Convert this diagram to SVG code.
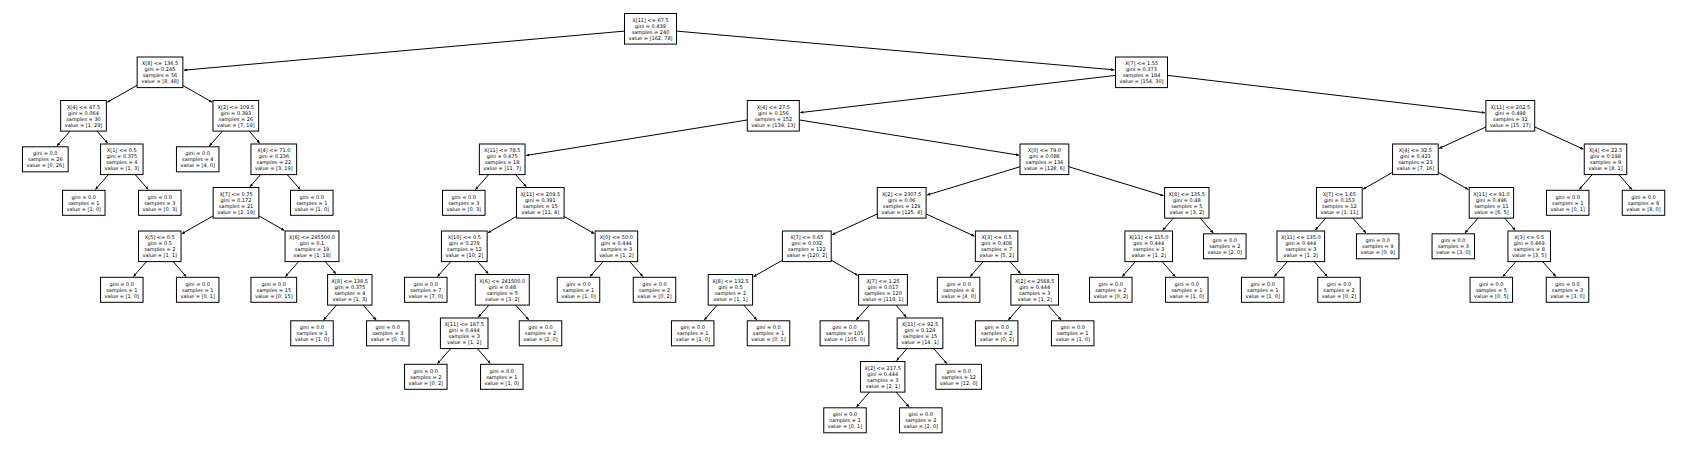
<svg xmlns="http://www.w3.org/2000/svg" width="1688" height="449" viewBox="0 0 1688 449">
<defs>
<style>
.box{fill:#fff;stroke:#000;stroke-width:1}
.t{font-family:"DejaVu Sans","Liberation Sans",sans-serif;font-size:5px;text-anchor:middle;dominant-baseline:central;fill:#000}
.e{stroke:#000;stroke-width:1;fill:none;marker-end:url(#ah)}
</style>
<marker id="ah" markerUnits="userSpaceOnUse" markerWidth="3.2" markerHeight="3" viewBox="0 0 3.2 3" refX="3.2" refY="1.5" orient="auto"><path d="M0,0 L3.2,1.5 L0,3 z" fill="#000"/></marker>
</defs>
<rect width="1688" height="449" fill="#fff"/>
<g id="connectors">
<line class="e" x1="650.5" y1="28.8" x2="183.85" y2="70.18"/>
<line class="e" x1="650.5" y1="28.8" x2="1114.5" y2="69.9"/>
<line class="e" x1="160" y1="72.3" x2="107.2" y2="102.3"/>
<line class="e" x1="160" y1="72.3" x2="212.1" y2="102.2"/>
<line class="e" x1="83.5" y1="115.8" x2="56.9" y2="146.05"/>
<line class="e" x1="83.5" y1="115.8" x2="107.7" y2="143.25"/>
<line class="e" x1="121.8" y1="159.3" x2="95.4" y2="189.5"/>
<line class="e" x1="121.8" y1="159.3" x2="148.2" y2="189.5"/>
<line class="e" x1="235.8" y1="115.8" x2="209.3" y2="146.05"/>
<line class="e" x1="235.8" y1="115.8" x2="259.8" y2="143.25"/>
<line class="e" x1="273.8" y1="159.3" x2="249.95" y2="186.75"/>
<line class="e" x1="273.8" y1="159.3" x2="300.2" y2="189.5"/>
<line class="e" x1="236" y1="202.8" x2="181.9" y2="233.7"/>
<line class="e" x1="236" y1="202.8" x2="284.4" y2="230.5"/>
<line class="e" x1="159.8" y1="246.3" x2="133.4" y2="276.55"/>
<line class="e" x1="159.8" y1="246.3" x2="186.15" y2="276.55"/>
<line class="e" x1="312" y1="246.3" x2="285.44" y2="276.55"/>
<line class="e" x1="312" y1="246.3" x2="335.85" y2="273.75"/>
<line class="e" x1="349.8" y1="289.8" x2="323.5" y2="320.05"/>
<line class="e" x1="349.8" y1="289.8" x2="376.2" y2="320.05"/>
<line class="e" x1="1141.5" y1="72.3" x2="800.3" y2="112.6"/>
<line class="e" x1="1141.5" y1="72.3" x2="1484.9" y2="112.8"/>
<line class="e" x1="773.3" y1="115.8" x2="526" y2="155.5"/>
<line class="e" x1="773.3" y1="115.8" x2="1019" y2="155.2"/>
<line class="e" x1="502.2" y1="159.3" x2="475.5" y2="189.55"/>
<line class="e" x1="502.2" y1="159.3" x2="526.24" y2="186.75"/>
<line class="e" x1="540.3" y1="202.8" x2="488" y2="232.7"/>
<line class="e" x1="540.3" y1="202.8" x2="594.3" y2="233.65"/>
<line class="e" x1="464.3" y1="246.3" x2="437.5" y2="276.55"/>
<line class="e" x1="464.3" y1="246.3" x2="488.3" y2="273.75"/>
<line class="e" x1="502.3" y1="289.8" x2="478.26" y2="317.25"/>
<line class="e" x1="502.3" y1="289.8" x2="528.86" y2="320.05"/>
<line class="e" x1="464.2" y1="333.3" x2="437.5" y2="363.55"/>
<line class="e" x1="464.2" y1="333.3" x2="490.34" y2="363.55"/>
<line class="e" x1="616.4" y1="246.3" x2="590.05" y2="276.55"/>
<line class="e" x1="616.4" y1="246.3" x2="642.9" y2="276.55"/>
<line class="e" x1="1044.4" y1="159.3" x2="927.06" y2="195.07"/>
<line class="e" x1="1044.4" y1="159.3" x2="1163.64" y2="195.73"/>
<line class="e" x1="901.7" y1="202.8" x2="832.1" y2="234.7"/>
<line class="e" x1="901.7" y1="202.8" x2="974.44" y2="236.14"/>
<line class="e" x1="806.8" y1="246.3" x2="753.47" y2="276.67"/>
<line class="e" x1="806.8" y1="246.3" x2="857.73" y2="275.37"/>
<line class="e" x1="730.4" y1="289.8" x2="704.18" y2="320.05"/>
<line class="e" x1="730.4" y1="289.8" x2="756.9" y2="320.05"/>
<line class="e" x1="883" y1="289.8" x2="856.2" y2="320.05"/>
<line class="e" x1="883" y1="289.8" x2="906.34" y2="317.24"/>
<line class="e" x1="920" y1="333.3" x2="896.47" y2="360.74"/>
<line class="e" x1="920" y1="333.3" x2="946.91" y2="363.55"/>
<line class="e" x1="882.7" y1="376.8" x2="856.48" y2="407.05"/>
<line class="e" x1="882.7" y1="376.8" x2="909.2" y2="407.05"/>
<line class="e" x1="996.6" y1="246.3" x2="970.18" y2="276.55"/>
<line class="e" x1="996.6" y1="246.3" x2="1020.64" y2="273.75"/>
<line class="e" x1="1034.7" y1="289.8" x2="1008.28" y2="320.05"/>
<line class="e" x1="1034.7" y1="289.8" x2="1061.12" y2="320.05"/>
<line class="e" x1="1186.8" y1="202.8" x2="1162.76" y2="230.25"/>
<line class="e" x1="1186.8" y1="202.8" x2="1213.22" y2="233.05"/>
<line class="e" x1="1148.7" y1="246.3" x2="1122.35" y2="276.55"/>
<line class="e" x1="1148.7" y1="246.3" x2="1175.2" y2="276.55"/>
<line class="e" x1="1510.3" y1="115.8" x2="1439.16" y2="148.41"/>
<line class="e" x1="1510.3" y1="115.8" x2="1583.34" y2="149.17"/>
<line class="e" x1="1415.4" y1="159.3" x2="1363.02" y2="189.24"/>
<line class="e" x1="1415.4" y1="159.3" x2="1468.33" y2="189.59"/>
<line class="e" x1="1339.3" y1="202.8" x2="1315" y2="230.25"/>
<line class="e" x1="1339.3" y1="202.8" x2="1366" y2="233.05"/>
<line class="e" x1="1300.8" y1="246.3" x2="1274.3" y2="276.55"/>
<line class="e" x1="1300.8" y1="246.3" x2="1327.36" y2="276.55"/>
<line class="e" x1="1491.4" y1="202.8" x2="1464.9" y2="233.05"/>
<line class="e" x1="1491.4" y1="202.8" x2="1515.25" y2="230.25"/>
<line class="e" x1="1529.2" y1="246.3" x2="1502.85" y2="276.55"/>
<line class="e" x1="1529.2" y1="246.3" x2="1555.83" y2="276.55"/>
<line class="e" x1="1605.5" y1="159.3" x2="1579.2" y2="189.55"/>
<line class="e" x1="1605.5" y1="159.3" x2="1631.9" y2="189.55"/>
</g>
<g id="n0" transform="translate(650.5,28.8)"><rect class="box" x="-26" y="-15.3" width="52" height="30.6"/><text class="t"><tspan x="0" y="-9">X[11] &lt;= 67.5</tspan><tspan x="0" y="-3">gini = 0.439</tspan><tspan x="0" y="3">samples = 240</tspan><tspan x="0" y="9">value = [162, 78]</tspan></text></g>
<g id="n1" transform="translate(160,72.3)"><rect class="box" x="-22.85" y="-15.3" width="45.7" height="30.6"/><text class="t"><tspan x="0" y="-9">X[8] &lt;= 136.5</tspan><tspan x="0" y="-3">gini = 0.245</tspan><tspan x="0" y="3">samples = 56</tspan><tspan x="0" y="9">value = [8, 48]</tspan></text></g>
<g id="n2" transform="translate(83.5,115.8)"><rect class="box" x="-22.85" y="-15.3" width="45.7" height="30.6"/><text class="t"><tspan x="0" y="-9">X[4] &lt;= 47.5</tspan><tspan x="0" y="-3">gini = 0.064</tspan><tspan x="0" y="3">samples = 30</tspan><tspan x="0" y="9">value = [1, 29]</tspan></text></g>
<g id="n3" transform="translate(45.3,159.3)"><rect class="box" x="-22.85" y="-12.5" width="45.7" height="25"/><text class="t"><tspan x="0" y="-6">gini = 0.0</tspan><tspan x="0" y="0">samples = 26</tspan><tspan x="0" y="6">value = [0, 26]</tspan></text></g>
<g id="n4" transform="translate(121.8,159.3)"><rect class="box" x="-21.25" y="-15.3" width="42.5" height="30.6"/><text class="t"><tspan x="0" y="-9">X[1] &lt;= 0.5</tspan><tspan x="0" y="-3">gini = 0.375</tspan><tspan x="0" y="3">samples = 4</tspan><tspan x="0" y="9">value = [1, 3]</tspan></text></g>
<g id="n5" transform="translate(83.8,202.8)"><rect class="box" x="-21.25" y="-12.5" width="42.5" height="25"/><text class="t"><tspan x="0" y="-6">gini = 0.0</tspan><tspan x="0" y="0">samples = 1</tspan><tspan x="0" y="6">value = [1, 0]</tspan></text></g>
<g id="n6" transform="translate(159.8,202.8)"><rect class="box" x="-21.25" y="-12.5" width="42.5" height="25"/><text class="t"><tspan x="0" y="-6">gini = 0.0</tspan><tspan x="0" y="0">samples = 3</tspan><tspan x="0" y="6">value = [0, 3]</tspan></text></g>
<g id="n7" transform="translate(235.8,115.8)"><rect class="box" x="-22.85" y="-15.3" width="45.7" height="30.6"/><text class="t"><tspan x="0" y="-9">X[2] &lt;= 109.5</tspan><tspan x="0" y="-3">gini = 0.393</tspan><tspan x="0" y="3">samples = 26</tspan><tspan x="0" y="9">value = [7, 19]</tspan></text></g>
<g id="n8" transform="translate(197.7,159.3)"><rect class="box" x="-21.25" y="-12.5" width="42.5" height="25"/><text class="t"><tspan x="0" y="-6">gini = 0.0</tspan><tspan x="0" y="0">samples = 4</tspan><tspan x="0" y="6">value = [4, 0]</tspan></text></g>
<g id="n9" transform="translate(273.8,159.3)"><rect class="box" x="-22.85" y="-15.3" width="45.7" height="30.6"/><text class="t"><tspan x="0" y="-9">X[4] &lt;= 71.0</tspan><tspan x="0" y="-3">gini = 0.236</tspan><tspan x="0" y="3">samples = 22</tspan><tspan x="0" y="9">value = [3, 19]</tspan></text></g>
<g id="n10" transform="translate(236,202.8)"><rect class="box" x="-22.85" y="-15.3" width="45.7" height="30.6"/><text class="t"><tspan x="0" y="-9">X[7] &lt;= 0.75</tspan><tspan x="0" y="-3">gini = 0.172</tspan><tspan x="0" y="3">samples = 21</tspan><tspan x="0" y="9">value = [2, 19]</tspan></text></g>
<g id="n11" transform="translate(159.8,246.3)"><rect class="box" x="-21.25" y="-15.3" width="42.5" height="30.6"/><text class="t"><tspan x="0" y="-9">X[5] &lt;= 0.5</tspan><tspan x="0" y="-3">gini = 0.5</tspan><tspan x="0" y="3">samples = 2</tspan><tspan x="0" y="9">value = [1, 1]</tspan></text></g>
<g id="n12" transform="translate(121.8,289.8)"><rect class="box" x="-21.25" y="-12.5" width="42.5" height="25"/><text class="t"><tspan x="0" y="-6">gini = 0.0</tspan><tspan x="0" y="0">samples = 1</tspan><tspan x="0" y="6">value = [1, 0]</tspan></text></g>
<g id="n13" transform="translate(197.7,289.8)"><rect class="box" x="-21.25" y="-12.5" width="42.5" height="25"/><text class="t"><tspan x="0" y="-6">gini = 0.0</tspan><tspan x="0" y="0">samples = 1</tspan><tspan x="0" y="6">value = [0, 1]</tspan></text></g>
<g id="n14" transform="translate(312,246.3)"><rect class="box" x="-26.95" y="-15.3" width="53.9" height="30.6"/><text class="t"><tspan x="0" y="-9">X[6] &lt;= 295500.0</tspan><tspan x="0" y="-3">gini = 0.1</tspan><tspan x="0" y="3">samples = 19</tspan><tspan x="0" y="9">value = [1, 18]</tspan></text></g>
<g id="n15" transform="translate(273.8,289.8)"><rect class="box" x="-22.85" y="-12.5" width="45.7" height="25"/><text class="t"><tspan x="0" y="-6">gini = 0.0</tspan><tspan x="0" y="0">samples = 15</tspan><tspan x="0" y="6">value = [0, 15]</tspan></text></g>
<g id="n16" transform="translate(349.8,289.8)"><rect class="box" x="-22.2" y="-15.3" width="44.4" height="30.6"/><text class="t"><tspan x="0" y="-9">X[8] &lt;= 138.5</tspan><tspan x="0" y="-3">gini = 0.375</tspan><tspan x="0" y="3">samples = 4</tspan><tspan x="0" y="9">value = [1, 3]</tspan></text></g>
<g id="n17" transform="translate(312,333.3)"><rect class="box" x="-21.25" y="-12.5" width="42.5" height="25"/><text class="t"><tspan x="0" y="-6">gini = 0.0</tspan><tspan x="0" y="0">samples = 1</tspan><tspan x="0" y="6">value = [1, 0]</tspan></text></g>
<g id="n18" transform="translate(387.8,333.3)"><rect class="box" x="-21.25" y="-12.5" width="42.5" height="25"/><text class="t"><tspan x="0" y="-6">gini = 0.0</tspan><tspan x="0" y="0">samples = 3</tspan><tspan x="0" y="6">value = [0, 3]</tspan></text></g>
<g id="n19" transform="translate(311.8,202.8)"><rect class="box" x="-21.25" y="-12.5" width="42.5" height="25"/><text class="t"><tspan x="0" y="-6">gini = 0.0</tspan><tspan x="0" y="0">samples = 1</tspan><tspan x="0" y="6">value = [1, 0]</tspan></text></g>
<g id="n20" transform="translate(1141.5,72.3)"><rect class="box" x="-26" y="-15.3" width="52" height="30.6"/><text class="t"><tspan x="0" y="-9">X[7] &lt;= 1.55</tspan><tspan x="0" y="-3">gini = 0.373</tspan><tspan x="0" y="3">samples = 184</tspan><tspan x="0" y="9">value = [154, 30]</tspan></text></g>
<g id="n21" transform="translate(773.3,115.8)"><rect class="box" x="-26" y="-15.3" width="52" height="30.6"/><text class="t"><tspan x="0" y="-9">X[4] &lt;= 27.5</tspan><tspan x="0" y="-3">gini = 0.156</tspan><tspan x="0" y="3">samples = 152</tspan><tspan x="0" y="9">value = [139, 13]</tspan></text></g>
<g id="n22" transform="translate(502.2,159.3)"><rect class="box" x="-22.85" y="-15.3" width="45.7" height="30.6"/><text class="t"><tspan x="0" y="-9">X[11] &lt;= 78.5</tspan><tspan x="0" y="-3">gini = 0.475</tspan><tspan x="0" y="3">samples = 18</tspan><tspan x="0" y="9">value = [11, 7]</tspan></text></g>
<g id="n23" transform="translate(463.8,202.8)"><rect class="box" x="-21.25" y="-12.5" width="42.5" height="25"/><text class="t"><tspan x="0" y="-6">gini = 0.0</tspan><tspan x="0" y="0">samples = 3</tspan><tspan x="0" y="6">value = [0, 3]</tspan></text></g>
<g id="n24" transform="translate(540.3,202.8)"><rect class="box" x="-23.8" y="-15.3" width="47.6" height="30.6"/><text class="t"><tspan x="0" y="-9">X[11] &lt;= 209.5</tspan><tspan x="0" y="-3">gini = 0.391</tspan><tspan x="0" y="3">samples = 15</tspan><tspan x="0" y="9">value = [11, 4]</tspan></text></g>
<g id="n25" transform="translate(464.3,246.3)"><rect class="box" x="-22.85" y="-15.3" width="45.7" height="30.6"/><text class="t"><tspan x="0" y="-9">X[10] &lt;= 0.5</tspan><tspan x="0" y="-3">gini = 0.278</tspan><tspan x="0" y="3">samples = 12</tspan><tspan x="0" y="9">value = [10, 2]</tspan></text></g>
<g id="n26" transform="translate(425.8,289.8)"><rect class="box" x="-21.25" y="-12.5" width="42.5" height="25"/><text class="t"><tspan x="0" y="-6">gini = 0.0</tspan><tspan x="0" y="0">samples = 7</tspan><tspan x="0" y="6">value = [7, 0]</tspan></text></g>
<g id="n27" transform="translate(502.3,289.8)"><rect class="box" x="-26.95" y="-15.3" width="53.9" height="30.6"/><text class="t"><tspan x="0" y="-9">X[6] &lt;= 241500.0</tspan><tspan x="0" y="-3">gini = 0.48</tspan><tspan x="0" y="3">samples = 5</tspan><tspan x="0" y="9">value = [3, 2]</tspan></text></g>
<g id="n28" transform="translate(464.2,333.3)"><rect class="box" x="-23.8" y="-15.3" width="47.6" height="30.6"/><text class="t"><tspan x="0" y="-9">X[11] &lt;= 187.5</tspan><tspan x="0" y="-3">gini = 0.444</tspan><tspan x="0" y="3">samples = 3</tspan><tspan x="0" y="9">value = [1, 2]</tspan></text></g>
<g id="n29" transform="translate(425.8,376.8)"><rect class="box" x="-21.25" y="-12.5" width="42.5" height="25"/><text class="t"><tspan x="0" y="-6">gini = 0.0</tspan><tspan x="0" y="0">samples = 2</tspan><tspan x="0" y="6">value = [0, 2]</tspan></text></g>
<g id="n30" transform="translate(501.8,376.8)"><rect class="box" x="-21.25" y="-12.5" width="42.5" height="25"/><text class="t"><tspan x="0" y="-6">gini = 0.0</tspan><tspan x="0" y="0">samples = 1</tspan><tspan x="0" y="6">value = [1, 0]</tspan></text></g>
<g id="n31" transform="translate(540.5,333.3)"><rect class="box" x="-21.25" y="-12.5" width="42.5" height="25"/><text class="t"><tspan x="0" y="-6">gini = 0.0</tspan><tspan x="0" y="0">samples = 2</tspan><tspan x="0" y="6">value = [2, 0]</tspan></text></g>
<g id="n32" transform="translate(616.4,246.3)"><rect class="box" x="-21.25" y="-15.3" width="42.5" height="30.6"/><text class="t"><tspan x="0" y="-9">X[0] &lt;= 50.0</tspan><tspan x="0" y="-3">gini = 0.444</tspan><tspan x="0" y="3">samples = 3</tspan><tspan x="0" y="9">value = [1, 2]</tspan></text></g>
<g id="n33" transform="translate(578.5,289.8)"><rect class="box" x="-21.25" y="-12.5" width="42.5" height="25"/><text class="t"><tspan x="0" y="-6">gini = 0.0</tspan><tspan x="0" y="0">samples = 1</tspan><tspan x="0" y="6">value = [1, 0]</tspan></text></g>
<g id="n34" transform="translate(654.5,289.8)"><rect class="box" x="-21.25" y="-12.5" width="42.5" height="25"/><text class="t"><tspan x="0" y="-6">gini = 0.0</tspan><tspan x="0" y="0">samples = 2</tspan><tspan x="0" y="6">value = [0, 2]</tspan></text></g>
<g id="n35" transform="translate(1044.4,159.3)"><rect class="box" x="-24.4" y="-15.3" width="48.8" height="30.6"/><text class="t"><tspan x="0" y="-9">X[0] &lt;= 79.0</tspan><tspan x="0" y="-3">gini = 0.086</tspan><tspan x="0" y="3">samples = 134</tspan><tspan x="0" y="9">value = [128, 6]</tspan></text></g>
<g id="n36" transform="translate(901.7,202.8)"><rect class="box" x="-24.4" y="-15.3" width="48.8" height="30.6"/><text class="t"><tspan x="0" y="-9">X[2] &lt;= 2307.5</tspan><tspan x="0" y="-3">gini = 0.06</tspan><tspan x="0" y="3">samples = 129</tspan><tspan x="0" y="9">value = [125, 4]</tspan></text></g>
<g id="n37" transform="translate(806.8,246.3)"><rect class="box" x="-24.4" y="-15.3" width="48.8" height="30.6"/><text class="t"><tspan x="0" y="-9">X[7] &lt;= 0.65</tspan><tspan x="0" y="-3">gini = 0.032</tspan><tspan x="0" y="3">samples = 122</tspan><tspan x="0" y="9">value = [120, 2]</tspan></text></g>
<g id="n38" transform="translate(730.4,289.8)"><rect class="box" x="-22.2" y="-15.3" width="44.4" height="30.6"/><text class="t"><tspan x="0" y="-9">X[8] &lt;= 132.5</tspan><tspan x="0" y="-3">gini = 0.5</tspan><tspan x="0" y="3">samples = 2</tspan><tspan x="0" y="9">value = [1, 1]</tspan></text></g>
<g id="n39" transform="translate(692.7,333.3)"><rect class="box" x="-21.25" y="-12.5" width="42.5" height="25"/><text class="t"><tspan x="0" y="-6">gini = 0.0</tspan><tspan x="0" y="0">samples = 1</tspan><tspan x="0" y="6">value = [1, 0]</tspan></text></g>
<g id="n40" transform="translate(768.5,333.3)"><rect class="box" x="-21.25" y="-12.5" width="42.5" height="25"/><text class="t"><tspan x="0" y="-6">gini = 0.0</tspan><tspan x="0" y="0">samples = 1</tspan><tspan x="0" y="6">value = [0, 1]</tspan></text></g>
<g id="n41" transform="translate(883,289.8)"><rect class="box" x="-24.4" y="-15.3" width="48.8" height="30.6"/><text class="t"><tspan x="0" y="-9">X[7] &lt;= 1.25</tspan><tspan x="0" y="-3">gini = 0.017</tspan><tspan x="0" y="3">samples = 120</tspan><tspan x="0" y="9">value = [119, 1]</tspan></text></g>
<g id="n42" transform="translate(844.5,333.3)"><rect class="box" x="-24.4" y="-12.5" width="48.8" height="25"/><text class="t"><tspan x="0" y="-6">gini = 0.0</tspan><tspan x="0" y="0">samples = 105</tspan><tspan x="0" y="6">value = [105, 0]</tspan></text></g>
<g id="n43" transform="translate(920,333.3)"><rect class="box" x="-22.85" y="-15.3" width="45.7" height="30.6"/><text class="t"><tspan x="0" y="-9">X[11] &lt;= 92.5</tspan><tspan x="0" y="-3">gini = 0.124</tspan><tspan x="0" y="3">samples = 15</tspan><tspan x="0" y="9">value = [14, 1]</tspan></text></g>
<g id="n44" transform="translate(882.7,376.8)"><rect class="box" x="-22.2" y="-15.3" width="44.4" height="30.6"/><text class="t"><tspan x="0" y="-9">X[2] &lt;= 217.5</tspan><tspan x="0" y="-3">gini = 0.444</tspan><tspan x="0" y="3">samples = 3</tspan><tspan x="0" y="9">value = [2, 1]</tspan></text></g>
<g id="n45" transform="translate(845,420.3)"><rect class="box" x="-21.25" y="-12.5" width="42.5" height="25"/><text class="t"><tspan x="0" y="-6">gini = 0.0</tspan><tspan x="0" y="0">samples = 1</tspan><tspan x="0" y="6">value = [0, 1]</tspan></text></g>
<g id="n46" transform="translate(920.8,420.3)"><rect class="box" x="-21.25" y="-12.5" width="42.5" height="25"/><text class="t"><tspan x="0" y="-6">gini = 0.0</tspan><tspan x="0" y="0">samples = 2</tspan><tspan x="0" y="6">value = [2, 0]</tspan></text></g>
<g id="n47" transform="translate(958.7,376.8)"><rect class="box" x="-22.85" y="-12.5" width="45.7" height="25"/><text class="t"><tspan x="0" y="-6">gini = 0.0</tspan><tspan x="0" y="0">samples = 12</tspan><tspan x="0" y="6">value = [12, 0]</tspan></text></g>
<g id="n48" transform="translate(996.6,246.3)"><rect class="box" x="-21.25" y="-15.3" width="42.5" height="30.6"/><text class="t"><tspan x="0" y="-9">X[3] &lt;= 0.5</tspan><tspan x="0" y="-3">gini = 0.408</tspan><tspan x="0" y="3">samples = 7</tspan><tspan x="0" y="9">value = [5, 2]</tspan></text></g>
<g id="n49" transform="translate(958.6,289.8)"><rect class="box" x="-21.25" y="-12.5" width="42.5" height="25"/><text class="t"><tspan x="0" y="-6">gini = 0.0</tspan><tspan x="0" y="0">samples = 4</tspan><tspan x="0" y="6">value = [4, 0]</tspan></text></g>
<g id="n50" transform="translate(1034.7,289.8)"><rect class="box" x="-23.8" y="-15.3" width="47.6" height="30.6"/><text class="t"><tspan x="0" y="-9">X[2] &lt;= 2568.5</tspan><tspan x="0" y="-3">gini = 0.444</tspan><tspan x="0" y="3">samples = 3</tspan><tspan x="0" y="9">value = [1, 2]</tspan></text></g>
<g id="n51" transform="translate(996.7,333.3)"><rect class="box" x="-21.25" y="-12.5" width="42.5" height="25"/><text class="t"><tspan x="0" y="-6">gini = 0.0</tspan><tspan x="0" y="0">samples = 2</tspan><tspan x="0" y="6">value = [0, 2]</tspan></text></g>
<g id="n52" transform="translate(1072.7,333.3)"><rect class="box" x="-21.25" y="-12.5" width="42.5" height="25"/><text class="t"><tspan x="0" y="-6">gini = 0.0</tspan><tspan x="0" y="0">samples = 1</tspan><tspan x="0" y="6">value = [1, 0]</tspan></text></g>
<g id="n53" transform="translate(1186.8,202.8)"><rect class="box" x="-22.2" y="-15.3" width="44.4" height="30.6"/><text class="t"><tspan x="0" y="-9">X[8] &lt;= 135.5</tspan><tspan x="0" y="-3">gini = 0.48</tspan><tspan x="0" y="3">samples = 5</tspan><tspan x="0" y="9">value = [3, 2]</tspan></text></g>
<g id="n54" transform="translate(1148.7,246.3)"><rect class="box" x="-23.8" y="-15.3" width="47.6" height="30.6"/><text class="t"><tspan x="0" y="-9">X[11] &lt;= 115.0</tspan><tspan x="0" y="-3">gini = 0.444</tspan><tspan x="0" y="3">samples = 3</tspan><tspan x="0" y="9">value = [1, 2]</tspan></text></g>
<g id="n55" transform="translate(1110.8,289.8)"><rect class="box" x="-21.25" y="-12.5" width="42.5" height="25"/><text class="t"><tspan x="0" y="-6">gini = 0.0</tspan><tspan x="0" y="0">samples = 2</tspan><tspan x="0" y="6">value = [0, 2]</tspan></text></g>
<g id="n56" transform="translate(1186.8,289.8)"><rect class="box" x="-21.25" y="-12.5" width="42.5" height="25"/><text class="t"><tspan x="0" y="-6">gini = 0.0</tspan><tspan x="0" y="0">samples = 1</tspan><tspan x="0" y="6">value = [1, 0]</tspan></text></g>
<g id="n57" transform="translate(1224.8,246.3)"><rect class="box" x="-21.25" y="-12.5" width="42.5" height="25"/><text class="t"><tspan x="0" y="-6">gini = 0.0</tspan><tspan x="0" y="0">samples = 2</tspan><tspan x="0" y="6">value = [2, 0]</tspan></text></g>
<g id="n58" transform="translate(1510.3,115.8)"><rect class="box" x="-24.4" y="-15.3" width="48.8" height="30.6"/><text class="t"><tspan x="0" y="-9">X[11] &lt;= 202.5</tspan><tspan x="0" y="-3">gini = 0.498</tspan><tspan x="0" y="3">samples = 32</tspan><tspan x="0" y="9">value = [15, 17]</tspan></text></g>
<g id="n59" transform="translate(1415.4,159.3)"><rect class="box" x="-22.85" y="-15.3" width="45.7" height="30.6"/><text class="t"><tspan x="0" y="-9">X[4] &lt;= 32.5</tspan><tspan x="0" y="-3">gini = 0.423</tspan><tspan x="0" y="3">samples = 23</tspan><tspan x="0" y="9">value = [7, 16]</tspan></text></g>
<g id="n60" transform="translate(1339.3,202.8)"><rect class="box" x="-22.85" y="-15.3" width="45.7" height="30.6"/><text class="t"><tspan x="0" y="-9">X[7] &lt;= 1.65</tspan><tspan x="0" y="-3">gini = 0.153</tspan><tspan x="0" y="3">samples = 12</tspan><tspan x="0" y="9">value = [1, 11]</tspan></text></g>
<g id="n61" transform="translate(1300.8,246.3)"><rect class="box" x="-23.8" y="-15.3" width="47.6" height="30.6"/><text class="t"><tspan x="0" y="-9">X[11] &lt;= 135.0</tspan><tspan x="0" y="-3">gini = 0.444</tspan><tspan x="0" y="3">samples = 3</tspan><tspan x="0" y="9">value = [1, 2]</tspan></text></g>
<g id="n62" transform="translate(1262.7,289.8)"><rect class="box" x="-21.25" y="-12.5" width="42.5" height="25"/><text class="t"><tspan x="0" y="-6">gini = 0.0</tspan><tspan x="0" y="0">samples = 1</tspan><tspan x="0" y="6">value = [1, 0]</tspan></text></g>
<g id="n63" transform="translate(1339,289.8)"><rect class="box" x="-21.25" y="-12.5" width="42.5" height="25"/><text class="t"><tspan x="0" y="-6">gini = 0.0</tspan><tspan x="0" y="0">samples = 2</tspan><tspan x="0" y="6">value = [0, 2]</tspan></text></g>
<g id="n64" transform="translate(1377.7,246.3)"><rect class="box" x="-21.25" y="-12.5" width="42.5" height="25"/><text class="t"><tspan x="0" y="-6">gini = 0.0</tspan><tspan x="0" y="0">samples = 9</tspan><tspan x="0" y="6">value = [0, 9]</tspan></text></g>
<g id="n65" transform="translate(1491.4,202.8)"><rect class="box" x="-22.2" y="-15.3" width="44.4" height="30.6"/><text class="t"><tspan x="0" y="-9">X[11] &lt;= 91.0</tspan><tspan x="0" y="-3">gini = 0.496</tspan><tspan x="0" y="3">samples = 11</tspan><tspan x="0" y="9">value = [6, 5]</tspan></text></g>
<g id="n66" transform="translate(1453.3,246.3)"><rect class="box" x="-21.25" y="-12.5" width="42.5" height="25"/><text class="t"><tspan x="0" y="-6">gini = 0.0</tspan><tspan x="0" y="0">samples = 3</tspan><tspan x="0" y="6">value = [3, 0]</tspan></text></g>
<g id="n67" transform="translate(1529.2,246.3)"><rect class="box" x="-21.25" y="-15.3" width="42.5" height="30.6"/><text class="t"><tspan x="0" y="-9">X[3] &lt;= 0.5</tspan><tspan x="0" y="-3">gini = 0.469</tspan><tspan x="0" y="3">samples = 8</tspan><tspan x="0" y="9">value = [3, 5]</tspan></text></g>
<g id="n68" transform="translate(1491.3,289.8)"><rect class="box" x="-21.25" y="-12.5" width="42.5" height="25"/><text class="t"><tspan x="0" y="-6">gini = 0.0</tspan><tspan x="0" y="0">samples = 5</tspan><tspan x="0" y="6">value = [0, 5]</tspan></text></g>
<g id="n69" transform="translate(1567.5,289.8)"><rect class="box" x="-21.25" y="-12.5" width="42.5" height="25"/><text class="t"><tspan x="0" y="-6">gini = 0.0</tspan><tspan x="0" y="0">samples = 3</tspan><tspan x="0" y="6">value = [3, 0]</tspan></text></g>
<g id="n70" transform="translate(1605.5,159.3)"><rect class="box" x="-21.25" y="-15.3" width="42.5" height="30.6"/><text class="t"><tspan x="0" y="-9">X[4] &lt;= 22.5</tspan><tspan x="0" y="-3">gini = 0.198</tspan><tspan x="0" y="3">samples = 9</tspan><tspan x="0" y="9">value = [8, 1]</tspan></text></g>
<g id="n71" transform="translate(1567.7,202.8)"><rect class="box" x="-21.25" y="-12.5" width="42.5" height="25"/><text class="t"><tspan x="0" y="-6">gini = 0.0</tspan><tspan x="0" y="0">samples = 1</tspan><tspan x="0" y="6">value = [0, 1]</tspan></text></g>
<g id="n72" transform="translate(1643.5,202.8)"><rect class="box" x="-21.25" y="-12.5" width="42.5" height="25"/><text class="t"><tspan x="0" y="-6">gini = 0.0</tspan><tspan x="0" y="0">samples = 8</tspan><tspan x="0" y="6">value = [8, 0]</tspan></text></g>
</svg>
